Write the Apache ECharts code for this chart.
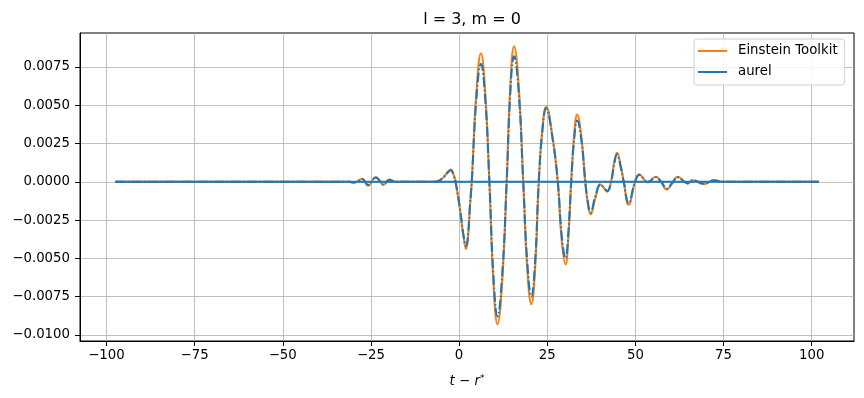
<!DOCTYPE html>
<html><head><meta charset="utf-8">
<script src="https://cdn.jsdelivr.net/npm/echarts@6/dist/echarts.min.js"></script>
<style>html,body{margin:0;padding:0;background:#fff}#c{width:864px;height:398px}</style>
</head><body><div id="c"></div>
<script>
// time axis (t - r*)
const times = [-97.5,-31,-30,-29,-27.5,-25.8,-23.6,-21.4,-19.8,-18,-7,-5.8,-4.4,-3.0,-2.3,-1.6,-1,0.3,1.2,2.0,2.6,3.1,3.6,4.9,6.2,7.4,8.6,9.75,10.9,12.2,13.5,14.55,15.6,16.9,18.2,19.35,20.5,21.55,22.6,23.65,24.7,26.4,28,29.1,30.2,31,31.8,32.65,33.5,34.65,35.8,36.5,37.3,38.6,40.1,41.1,42,43.1,44.1,44.8,45.8,46.7,48.1,49.9,51.1,53.5,55.8,57.3,58.9,60.4,62,64.8,66.2,69.5,72.3,74.7,102];
// Einstein Toolkit values
const etValues = [0,0,-0.00005,0,0.0002,-0.00025,0.0003,-0.0002,0.00015,0,0,0.00005,0.0003,0.0007,0.0008,0.0005,0,-0.0019,-0.0035,-0.0044,-0.0034,-0.0016,0,0.0058,0.0084,0.0059,0,-0.0066,-0.0093,-0.0066,0,0.0063,0.00885,0.0063,0,-0.0057,-0.0080,-0.0057,0,0.0035,0.0049,0.0031,0,-0.0038,-0.0054,-0.0036,0,0.0031,0.0044,0.003,0,-0.0014,-0.00213,-0.0011,-0.00018,-0.0004,-0.00065,0,0.0014,0.0019,0.0011,0,-0.0015,0,0.00048,-0.00002,0.00033,0,-0.0005,-0.0001,0.00033,-0.0001,0.0001,-0.00015,0.0001,0,0];
// aurel values
const aurelValues = [0,0,-0.00005,0,0.00018,-0.0002,0.00028,-0.00018,0.00013,0,0,0.00005,0.0003,0.00065,0.00075,0.00045,0,-0.0018,-0.0034,-0.0042,-0.0033,-0.0015,0,0.0054,0.0077,0.0055,0,-0.0062,-0.0088,-0.0062,0,0.0059,0.0082,0.0059,0,-0.0053,-0.0075,-0.0053,0,0.0034,0.0048,0.003,0,-0.0035,-0.0050,-0.0033,0,0.0028,0.0040,0.0028,0,-0.0013,-0.002,-0.001,-0.00017,-0.0004,-0.0006,0,0.0013,0.0018,0.001,0,-0.0014,0,0.00045,-0.00002,0.0003,0,-0.00045,-0.0001,0.0003,-0.0001,0.0001,-0.00013,0.0001,0,0];
// aurel baseline segment
const baseT = [-97.5, 102];
const baseV = [0, 0];
// ticks
const xTicks = [-100,-75,-50,-25,0,25,50,75,100];
const yTicks = [-0.01,-0.0075,-0.005,-0.0025,0,0.0025,0.005,0.0075];

const pair = (a,b)=>a.map((v,i)=>[v,b[i]]);
const FONT = 'DejaVu Sans';
const chart = echarts.init(document.getElementById('c'), null, {renderer:'canvas'});
const minus = s => s.replace('-', '\u2212');
chart.setOption({
  animation:false,
  backgroundColor:'#fff',
  title:{text:'l = 3, m = 0', left:467, top:7, textAlign:'center',
    textStyle:{fontFamily:FONT, fontSize:16, fontWeight:'normal', color:'#000'}},
  grid:{left:80, right:10, top:33, bottom:57, show:true, borderColor:'#000', borderWidth:1, backgroundColor:'transparent'},
  legend:{orient:'vertical', left:694, top:39, padding:[4,7,5,4], itemGap:5,
    itemWidth:29, itemHeight:2, icon:'rect',
    backgroundColor:'rgba(255,255,255,0.85)', borderColor:'#d0d0d0', borderWidth:1, borderRadius:3,
    textStyle:{fontFamily:FONT, fontSize:13.3, color:'#000', lineHeight:16, padding:[0,0,0,6]},
    data:['Einstein Toolkit','aurel']},
  xAxis:{type:'value', min:-107.5, max:112,
    name:'{i|t} \u2212 {i|r}{s|*}', nameLocation:'middle', nameGap:33,
    nameTextStyle:{fontFamily:FONT, fontSize:13.3, color:'#000',
      rich:{i:{fontStyle:'italic', fontFamily:FONT, fontSize:13.3}, s:{fontFamily:FONT, fontSize:9, verticalAlign:'top', padding:[0,0,6,0]}}},
    axisLine:{show:true, onZero:false, lineStyle:{color:'#000', width:1}},
    axisTick:{show:true, length:5, lineStyle:{color:'#000'}, customValues:xTicks},
    axisLabel:{fontFamily:FONT, fontSize:13.3, color:'#000', margin:8, customValues:xTicks,
      formatter:v=>minus(String(v))},
    splitLine:{show:true, lineStyle:{color:'#b0b0b0', width:0.8}}},
  yAxis:{type:'value', min:-0.0104, max:0.00972,
    axisLine:{show:true, onZero:false, lineStyle:{color:'#000', width:1}},
    axisTick:{show:true, length:5, lineStyle:{color:'#000'}, customValues:yTicks},
    axisLabel:{fontFamily:FONT, fontSize:13.3, color:'#000', margin:10, customValues:yTicks,
      formatter:v=>(v<0?'\u2212':'')+Math.abs(v).toFixed(4)},
    splitLine:{show:true, lineStyle:{color:'#b0b0b0', width:0.8}}},
  series:[
    {name:'Einstein Toolkit', type:'line', data:pair(times, etValues), smooth:0.45, showSymbol:false,
      lineStyle:{color:'#ff7f0e', width:2.1}, itemStyle:{color:'#ff7f0e'}, z:2},
    {name:'aurel', type:'line', data:pair(times, aurelValues), smooth:0.45, showSymbol:false,
      lineStyle:{color:'#1f77b4', width:2.1, type:[10,2.5,1.5,2.5]}, itemStyle:{color:'#1f77b4'}, z:3},
    {name:'aurel_base', type:'line', data:pair(baseT, baseV), showSymbol:false,
      lineStyle:{color:'#1f77b4', width:2.1}, itemStyle:{color:'#1f77b4'}, z:4}
  ]
});
</script></body></html>
